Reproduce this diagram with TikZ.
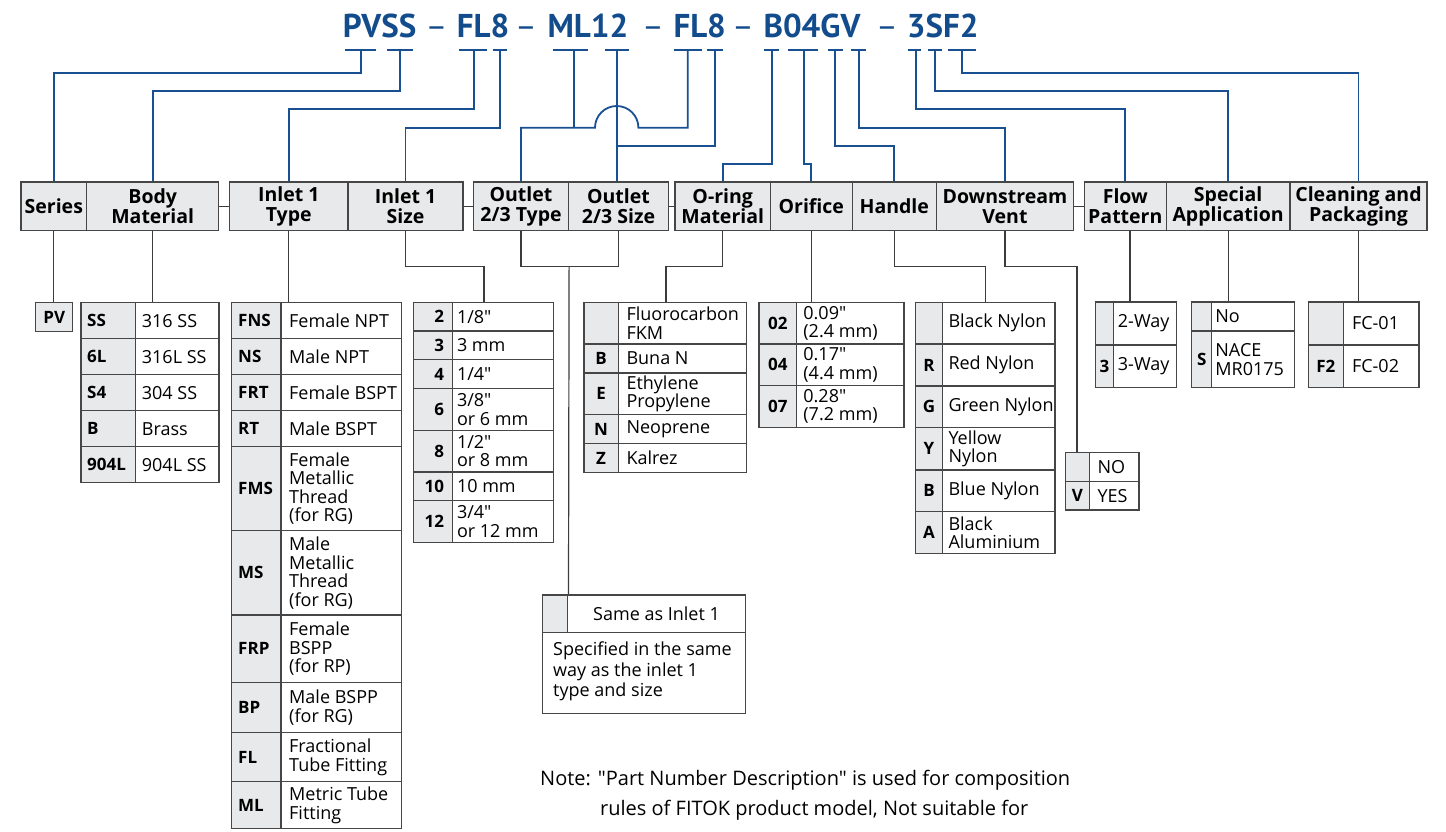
\documentclass[tikz,border=0pt]{standalone}
\usepackage{fontspec}
\setmainfont{Open Sans}[Ligatures=TeXOff]
\newfontfamily\ttlfont{PT Sans}[Ligatures=TeXOff]
\usetikzlibrary{calc}
\definecolor{titleblue}{RGB}{19,76,140}
\definecolor{lineblue}{RGB}{24,80,145}
\definecolor{bordc}{RGB}{70,70,70}
\definecolor{linegray}{RGB}{60,60,60}
\definecolor{grayc}{RGB}{232,233,234}
\tikzset{
  cell/.style={draw=bordc, line width=1.2pt, fill=white},
  codecell/.style={draw=bordc, line width=1.2pt, fill=grayc},
  codetext/.style={font=\bfseries\fontsize{17}{17}\selectfont, inner sep=0pt},
  bodytext/.style={font=\fontsize{18}{18.5}\selectfont, align=left, inner sep=0pt},
  notetext/.style={font=\fontsize{20}{20}\selectfont, inner sep=0pt, anchor=base west},
  hdr/.style={draw=bordc, fill=grayc, line width=1.2pt, inner sep=0pt, minimum height=48.3pt, align=center, font=\bfseries\fontsize{19.5}{20}\selectfont},
  ttl/.style={font=\ttlfont\bfseries\fontsize{33}{33}\selectfont, text=titleblue, inner sep=0pt, anchor=base west},
  dsh/.style={font=\ttlfont\fontsize{33}{33}\selectfont, text=titleblue, inner sep=0pt, anchor=base},
  bl/.style={draw=lineblue, line width=1.8pt},
  tick/.style={draw=lineblue, line width=2.6pt},
  gl/.style={draw=linegray, line width=1.2pt},
}
\newcommand\settab[6]{\def\xa{#1}\def\xb{#2}\def\xc{#3}\def\placecode{#4}\def\cpad{#5}\def\tpad{#6}}
\newcommand\codeL[3]{\node[codetext,anchor=west] (#1) at ({\xa+\cpad},{#2}) {#3};}
\newcommand\codeC[3]{\node[codetext] (#1) at ({(\xa+\xb)/2},{#2}) {#3};}
\newcommand\codeR[3]{\node[codetext,anchor=east] (#1) at ({\xb-\cpad},{#2}) {#3};}
\newcommand\tabrow[5]{%
  \path[codecell] (\xa,#2) rectangle (\xb,#3);
  \path[cell] (\xb,#2) rectangle (\xc,#3);
  \placecode{#1c}{(#2+#3)/2}{#4}
  \node[bodytext,anchor=west] (#1t) at ({\xb+\tpad},{(#2+#3)/2}) {#5};
}
\begin{document}
\begin{tikzpicture}[x=1pt,y=-1pt]
\useasboundingbox[fill=white] (0,0) rectangle (1446,831);

% ---------- title ----------
\node[ttl] (t1) at (342.7,37.3) {PVSS};
\node[dsh] (d1) at (436.5,37.3) {–};
\node[ttl] (t2) at (456.7,37.3) {FL8};
\node[dsh] (d2) at (526,37.3) {–};
\node[ttl] (t3) at (547.3,37.3) {ML12};
\node[dsh] (d3) at (653,37.3) {–};
\node[ttl] (t4) at (673.3,37.3) {FL8};
\node[dsh] (d4) at (743,37.3) {–};
\node[ttl] (t5) at (763.3,37.3) {B04GV};
\node[dsh] (d5) at (887,37.3) {–};
\node[ttl] (t6) at (906.7,37.3) {3SF2};

% ---------- ticks ----------
\draw[tick] (345,49.8) -- (375.7,49.8);   \coordinate (kP)  at (361,49.8);
\draw[tick] (387.3,49.8) -- (413.3,49.8); \coordinate (kS)  at (400,49.8);
\draw[tick] (459.3,49.8) -- (486.7,49.8); \coordinate (kF1) at (474,49.8);
\draw[tick] (492.7,49.8) -- (507.3,49.8); \coordinate (k81) at (500,49.8);
\draw[tick] (552.7,49.8) -- (587.7,49.8); \coordinate (kM)  at (574,49.8);
\draw[tick] (605,49.8) -- (629,49.8);     \coordinate (k12) at (616.7,49.8);
\draw[tick] (674,49.8) -- (702.3,49.8);   \coordinate (kF2) at (687.7,49.8);
\draw[tick] (706.7,49.8) -- (722.7,49.8); \coordinate (k82) at (715,49.8);
\draw[tick] (764.3,49.8) -- (779.3,49.8); \coordinate (kB)  at (771.7,49.8);
\draw[tick] (787.7,49.8) -- (817.7,49.8); \coordinate (k04) at (804,49.8);
\draw[tick] (827.7,49.8) -- (842.7,49.8); \coordinate (kG)  at (835,49.8);
\draw[tick] (851,49.8) -- (866,49.8);     \coordinate (kV)  at (859.3,49.8);
\draw[tick] (908.3,49.8) -- (921,49.8);   \coordinate (k3)  at (916,49.8);
\draw[tick] (928.3,49.8) -- (941.7,49.8); \coordinate (kSS) at (935,49.8);
\draw[tick] (948.3,49.8) -- (975.7,49.8); \coordinate (kF)  at (962.3,49.8);

\coordinate (L1) at (0,72.7);
\coordinate (L2) at (0,91);
\coordinate (L3) at (0,109.3);
\coordinate (L4) at (0,127.7);
\coordinate (L5) at (0,145.7);
\coordinate (L6) at (0,164);
\coordinate (G1) at (0,266.7);

% ---------- header ----------
\node[hdr, minimum width=65.6pt]  (hSeries)  at (53.8,206.15)   {Series};
\node[hdr, minimum width=132.2pt] (hBody)    at (152.7,206.15)  {Body\\Material};
\node[hdr, minimum width=118.5pt] (hInType)  at (288.75,206.15) {Inlet 1\\Type};
\node[hdr, minimum width=115pt]   (hInSize)  at (405.5,206.15)  {Inlet 1\\Size};
\node[hdr, minimum width=95pt]    (hOutType) at (521,206.15)    {Outlet\\2/3 Type};
\node[hdr, minimum width=100pt]   (hOutSize) at (618.5,206.15)  {Outlet\\2/3 Size};
\node[hdr, minimum width=95.4pt]  (hOring)   at (722.7,206.15)  {O-ring\\Material};
\node[hdr, minimum width=81.8pt]  (hOrif)    at (811.3,206.15)  {Orifice};
\node[hdr, minimum width=84.2pt]  (hHandle)  at (894.3,206.15)  {Handle};
\node[hdr, minimum width=137.1pt] (hDown)    at (1004.95,206.15) {Downstream\\Vent};
\node[hdr, minimum width=81.8pt]  (hFlow)    at (1125.3,206.15) {Flow\\Pattern};
\node[hdr, minimum width=123.8pt] (hSpec)    at (1228.1,206.15) {Special\\Application};
\node[hdr, minimum width=137pt]   (hClean)   at (1358.5,206.15) {Cleaning and\\Packaging};

\draw[gl] (hBody.east) -- (hInType.west);
\draw[gl] (hInSize.east) -- (hOutType.west);
\draw[gl] (hOutSize.east) -- (hOring.west);
\draw[gl] (hDown.east) -- (hFlow.west);

% ---------- blue routes ----------
\draw[bl] (kP)  |- (hSeries.north |- L1) -- (hSeries.north);
\draw[bl] (kS)  |- (hBody.north |- L2) -- (hBody.north);
\draw[bl] (kF1) |- (hInType.north |- L3) -- (hInType.north);
\draw[bl] (k81) |- (hInSize.north |- L4) -- (hInSize.north);
\draw[bl] (hOutType.north) -- (hOutType.north |- L4) -- ($(k12 |- L4)+(-21.7,0)$)
   arc[start angle=180, delta angle=-180, radius=21.7pt] -- (kF2 |- L4) -- (kF2);
\draw[bl] (kM) -- (kM |- L4);
\draw[bl] (k12) -- (k12 |- hOutSize.north);
\draw[bl] (k82) |- (k12 |- L5);
\draw[bl] (kB)  |- (hOring.north |- L6) -- (hOring.north);
\draw[bl] (k04) |- (hOrif.north |- L6) -- (hOrif.north);
\draw[bl] (kG)  |- (hHandle.north |- L5) -- (hHandle.north);
\draw[bl] (kV)  |- (hDown.north |- L4) -- (hDown.north);
\draw[bl] (k3)  |- (hFlow.north |- L3) -- (hFlow.north);
\draw[bl] (kSS) |- (hSpec.north |- L2) -- (hSpec.north);
\draw[bl] (kF)  |- (hClean.north |- L1) -- (hClean.north);

% ---------- table anchors ----------
\coordinate (tBody)   at (152.7,302.7);
\coordinate (tInType) at (288.75,302.7);
\coordinate (tSize)   at (484,302.3);
\coordinate (tSame)   at (568.5,595);
\coordinate (tOring)  at (666,302.3);
\coordinate (tOrif)   at (811.3,302.3);
\coordinate (tHandle) at (985.4,302.3);
\coordinate (tVent)   at (1077,452.7);
\coordinate (tFlow)   at (1130,302);
\coordinate (tSpec)   at (1228.1,302);
\coordinate (tClean)  at (1358.5,302);

% ---------- gray connectors ----------
\node[codecell, codetext, minimum width=37pt, minimum height=29pt] (tPV) at (54.2,317.2) {PV};
\draw[gl] (hSeries.south) -- (hSeries.south |- tPV.north);
\draw[gl] (hBody.south) -- (tBody);
\draw[gl] (hInType.south) -- (tInType);
\draw[gl] (hInSize.south) -- (hInSize.south |- G1) -| (tSize);
\draw[gl] (hOutType.south) -- (hOutType.south |- G1) -- (hOutSize.south |- G1) -- (hOutSize.south);
\draw[gl] (hOutType.south east |- G1) -- (tSame);
\draw[gl] (hOring.south) -- (hOring.south |- G1) -| (tOring);
\draw[gl] (hOrif.south) -- (tOrif);
\draw[gl] (hHandle.south) -- (hHandle.south |- G1) -| (tHandle);
\draw[gl] (hDown.south) -- (hDown.south |- G1) -| (tVent);
\draw[gl] (hFlow.south -| tFlow) -- (tFlow);
\draw[gl] (hSpec.south) -- (tSpec);
\draw[gl] (hClean.south) -- (tClean);

% ---------- Body material ----------
\settab{81}{135.7}{219}{\codeL}{6}{6}
\tabrow{b1}{302.7}{338.7}{SS}{316 SS}
\tabrow{b2}{338.7}{374.7}{6L}{316L SS}
\tabrow{b3}{374.7}{410.7}{S4}{304 SS}
\tabrow{b4}{410.7}{446.7}{B}{Brass}
\tabrow{b5}{446.7}{482.7}{904L}{904L SS}

% ---------- Inlet type ----------
\settab{231.5}{281}{401.5}{\codeL}{6.5}{8}
\tabrow{i1}{302.7}{338.7}{FNS}{Female NPT}
\tabrow{i2}{338.7}{374.7}{NS}{Male NPT}
\tabrow{i3}{374.7}{410.7}{FRT}{Female BSPT}
\tabrow{i4}{410.7}{446.7}{RT}{Male BSPT}
\tabrow{i5}{446.7}{530.7}{FMS}{Female\\Metallic\\Thread\\(for RG)}
\tabrow{i6}{530.7}{615}{MS}{Male\\Metallic\\Thread\\(for RG)}
\tabrow{i7}{615}{682.7}{FRP}{Female\\BSPP\\(for RP)}
\tabrow{i8}{682.7}{732.7}{BP}{Male BSPP\\(for RG)}
\tabrow{i9}{732.7}{781.7}{FL}{Fractional\\Tube Fitting}
\tabrow{i10}{781.7}{828.7}{ML}{Metric Tube\\Fitting}

% ---------- Inlet size ----------
\settab{413.3}{452.3}{553.3}{\codeR}{8}{4.5}
\tabrow{s1}{302.3}{331}{2}{1/8"}
\tabrow{s2}{331}{359.7}{3}{3 mm}
\tabrow{s3}{359.7}{388.7}{4}{1/4"}
\tabrow{s4}{388.7}{430.3}{6}{3/8"\\or 6 mm}
\tabrow{s5}{430.3}{472}{8}{1/2"\\or 8 mm}
\tabrow{s6}{472}{500.7}{10}{10 mm}
\tabrow{s7}{500.7}{542.3}{12}{3/4"\\or 12 mm}

% ---------- O-ring ----------
\settab{584}{618.3}{746.7}{\codeC}{0}{8}
\tabrow{o1}{302.3}{344}{}{Fluorocarbon\\FKM}
\tabrow{o2}{344}{373}{B}{Buna N}
\tabrow{o3}{373}{414.7}{E}{Ethylene\\Propylene}
\tabrow{o4}{414.7}{443.7}{N}{Neoprene}
\tabrow{o5}{443.7}{472.7}{Z}{Kalrez}

% ---------- Orifice ----------
\settab{759}{796.7}{904}{\codeC}{0}{6.5}
\tabrow{r1}{302.3}{344}{02}{0.09"\\(2.4 mm)}
\tabrow{r2}{344}{385.7}{04}{0.17"\\(4.4 mm)}
\tabrow{r3}{385.7}{427.3}{07}{0.28"\\(7.2 mm)}

% ---------- Handle ----------
\settab{915.7}{942.3}{1055}{\codeC}{0}{6}
\tabrow{h1}{302.3}{344}{}{Black Nylon}
\tabrow{h2}{344}{386}{R}{Red Nylon}
\tabrow{h3}{386}{427.7}{G}{Green Nylon}
\tabrow{h4}{427.7}{470}{Y}{Yellow\\Nylon}
\tabrow{h5}{470}{511.7}{B}{Blue Nylon}
\tabrow{h6}{511.7}{553.3}{A}{Black\\Aluminium}

% ---------- Downstream vent ----------
\settab{1065.3}{1089.3}{1139}{\codeC}{0}{8}
\tabrow{v1}{452.7}{481.7}{}{NO}
\tabrow{v2}{481.7}{510}{V}{YES}

% ---------- Flow pattern ----------
\settab{1095.3}{1113.7}{1176.7}{\codeC}{0}{4}
\tabrow{f1}{302}{345}{}{2-Way}
\tabrow{f2}{345}{387.7}{3}{3-Way}

% ---------- Special application ----------
\settab{1191.7}{1211.7}{1294.3}{\codeC}{0}{3.5}
\tabrow{a1}{302}{331}{}{No}
\tabrow{a2}{331}{387.7}{S}{NACE\\MR0175}

% ---------- Cleaning ----------
\settab{1308.3}{1343.3}{1419}{\codeC}{0}{8.5}
\tabrow{c1}{302}{345}{}{FC-01}
\tabrow{c2}{345}{387.7}{F2}{FC-02}

% ---------- Same as inlet 1 ----------
\path[codecell] (542.5,595) rectangle (567.5,632.7);
\path[cell] (567.5,595) rectangle (745.4,632.7);
\path[cell] (542.5,632.7) rectangle (745.4,713.3);
\node[bodytext] (sameT) at (656.5,613.85) {Same as Inlet 1};
\node[bodytext, font=\fontsize{18}{20.5}\selectfont, anchor=north west] (sameB) at (553,642) {Specified in the same\\way as the inlet 1\\type and size};

% ---------- note ----------
\node[notetext] (note1) at (540,785) {Note: "Part Number Description" is used for composition};
\node[notetext] (note2) at (600,815) {rules of FITOK product model, Not suitable for};
\end{tikzpicture}
\end{document}
